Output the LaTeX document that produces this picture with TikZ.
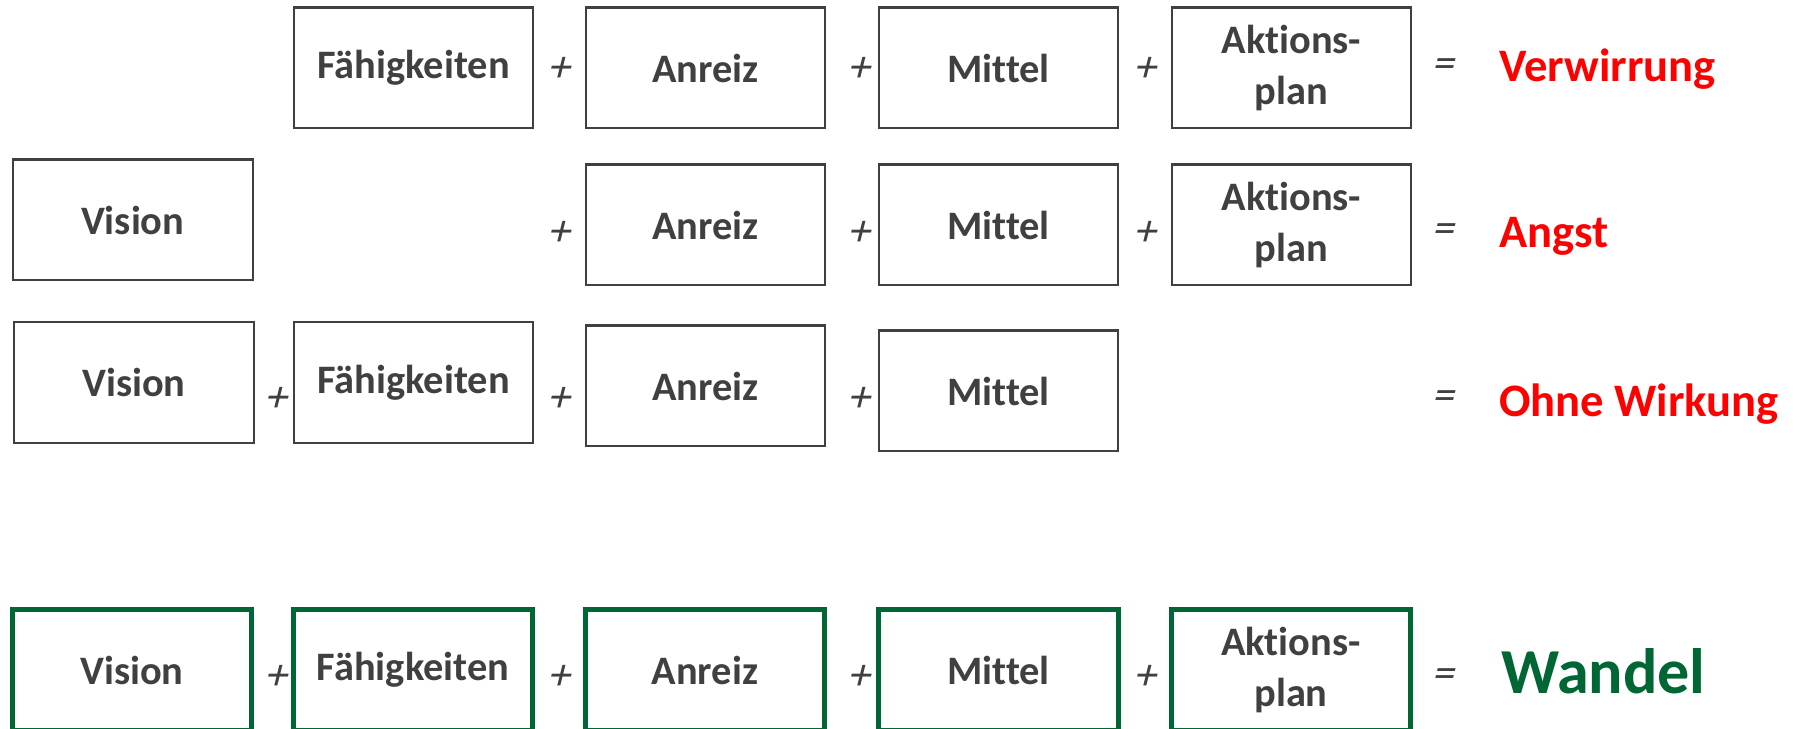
\documentclass[tikz,border=0pt]{standalone}
\usepackage{fontspec}
\setmainfont{Carlito}[Ligatures=NoCommon]
\newfontfamily\opfont{Carlito}[FakeSlant=0.25]
\definecolor{boxgray}{HTML}{404040}
\definecolor{okgreen}{HTML}{006633}
\definecolor{alarm}{HTML}{FF0000}

\begin{document}
\begin{tikzpicture}[x=0.02cm,y=-0.02cm,
  block/.style={draw=boxgray,line width=1.15pt,minimum width=4.8cm,minimum height=2.42cm,
    inner sep=0pt,align=center,text=boxgray,font=\bfseries\fontsize{23}{28.5}\selectfont},
  goal/.style={block,draw=okgreen,line width=2.85pt},
  op/.style={inner sep=0pt,text=boxgray,font=\opfont\fontsize{25}{25}\selectfont},
  result/.style={anchor=base west,inner sep=0pt,text=alarm,font=\bfseries\fontsize{26.5}{30}\selectfont}]
  \useasboundingbox (0,0) rectangle (1810,729);

  % Row 1: without vision
  \node[block] (r1fae) at (413.5,68) {Fähigkeiten};
  \node[block] (r1anr) at (705.5,68) {Anreiz};
  \node[block] (r1mit) at (998.5,68) {Mittel};
  \node[block] (r1akt) at (1291.5,68) {Aktions-\\plan};
  \foreach \x/\n in {558/a,858/b,1144/c}
    \node[op] (r1p\n) at (\x,69) {+};
  \node[op] (r1eq) at (1442,68) {=};
  \node[result] (r1res) at (1499,82) {Verwirrung};

  % Row 2: without skills
  \node[block] (r2vis) at (132.7,220) {Vision};
  \node[block] (r2anr) at (705.5,225) {Anreiz};
  \node[block] (r2mit) at (998.5,225) {Mittel};
  \node[block] (r2akt) at (1291.5,225) {Aktions-\\plan};
  \foreach \x/\n in {558/a,858/b,1144/c}
    \node[op] (r2p\n) at (\x,233) {+};
  \node[op] (r2eq) at (1442,233) {=};
  \node[result] (r2res) at (1499,248) {Angst};

  % Row 3: without action plan
  \node[block] (r3vis) at (134,382.5) {Vision};
  \node[block] (r3fae) at (413.5,382.5) {Fähigkeiten};
  \node[block] (r3anr) at (705.5,386) {Anreiz};
  \node[block] (r3mit) at (998.5,391) {Mittel};
  \foreach \x/\n in {275/a,558/b,858/c}
    \node[op] (r3p\n) at (\x,399) {+};
  \node[op] (r3eq) at (1442,400) {=};
  \node[result] (r3res) at (1499,417) {Ohne Wirkung};

  % Row 4: everything together
  \node[goal] (r4vis) at (132,670) {Vision};
  \node[goal] (r4fae) at (413,670) {Fähigkeiten};
  \node[goal] (r4anr) at (705,670) {Anreiz};
  \node[goal] (r4mit) at (998.5,670) {Mittel};
  \node[goal] (r4akt) at (1291,670) {Aktions-\\plan};
  \foreach \x/\n in {275/a,558/b,858/c,1144/d}
    \node[op] (r4p\n) at (\x,677) {+};
  \node[op] (r4eq) at (1442,678) {=};
  \node[result,text=okgreen,font=\bfseries\fontsize{36.5}{40}\selectfont] (r4res) at (1501,693) {Wandel};
\end{tikzpicture}
\end{document}
